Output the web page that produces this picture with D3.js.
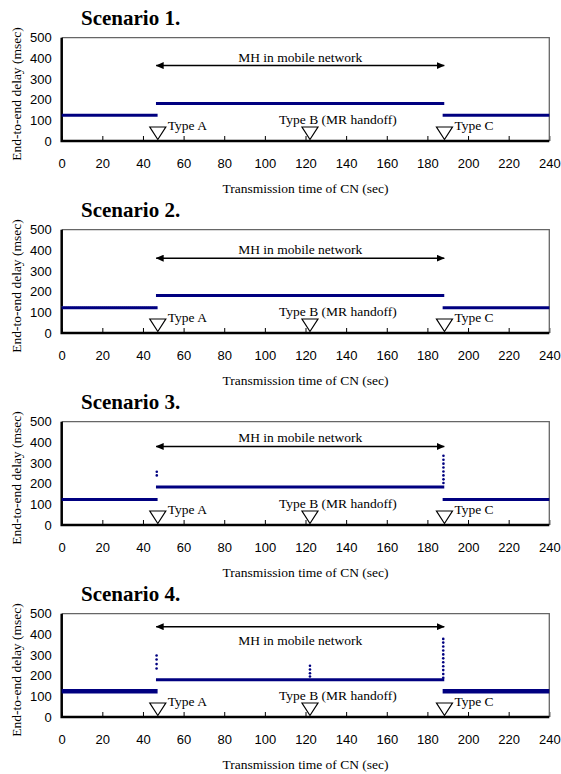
<!DOCTYPE html>
<meta charset="utf-8">
<script src="https://d3js.org/d3.v7.min.js"></script>
<style>
	body { margin: 0; background: #fff; }
	svg { display: block; font-family: "Liberation Serif", "Times New Roman", serif; }
	.axis text { font-size: 13px; fill: #000; }
	.axis path { display: none; }
	.x.axis line { stroke: #000; stroke-width: 1px; }
	.title { font-size: 21px; font-weight: bold; }
	.lbl { font-size: 13.5px; fill: #000; }
</style>
<body></body>
<script>

// chart values
var scenarios = ["Scenario 1.", "Scenario 2.", "Scenario 3.", "Scenario 4."];
var xTicks = [0, 20, 40, 60, 80, 100, 120, 140, 160, 180, 200, 220, 240];
var yTicks = [0, 100, 200, 300, 400, 500];

// three delay segments (before, during, after MH in mobile network)
var segStart = [0, 46.4, 187.5];
var segEnd = [47.2, 188.3, 240];
var delay1 = [125, 182, 125];
var delay2 = [122, 182, 122];
var delay3 = [123, 184, 123];
var delay4 = [125, 180, 125];
var delays = [delay1, delay2, delay3, delay4];

// faint second trace in scenario 2 (first segment only)
var ghost2 = 127;

// packet delay spikes at handoff events
var spikeA3 = [258, 240];
var spikeC3 = [335, 316, 297, 278, 259, 240, 221, 203];
var spikeA4 = [298, 278, 256, 235];
var spikeB4 = [248, 230, 212, 196];
var spikeC4 = [378, 360, 341, 322, 303, 284, 265, 246, 227, 208, 190];
var spikes = [
	[],
	[],
	[{t: 46.8, v: spikeA3}, {t: 187.9, v: spikeC3}],
	[{t: 46.7, v: spikeA4}, {t: 122.2, v: spikeB4}, {t: 187.8, v: spikeC4}]
];

// handoff events
var eventTimes = [47.3, 122.2, 188.4];
var eventNames = ["Type A", "Type B (MR handoff)", "Type C"];

// "MH in mobile network" arrow
var mhStart = 46.5, mhEnd = 188.3;
var arrowDelay = [365, 362, 380, 437];

var W = 561, H = 774, panelH = 192;

var svg = d3.select("body").append("svg")
	.attr("width", W)
	.attr("height", H);

svg.append("defs").append("marker")
	.attr("id", "head")
	.attr("viewBox", "0 0 8 7")
	.attr("refX", 7.5)
	.attr("refY", 3.5)
	.attr("markerWidth", 8)
	.attr("markerHeight", 7)
	.attr("markerUnits", "userSpaceOnUse")
	.attr("orient", "auto-start-reverse")
	.append("path")
	.attr("d", "M0,0 L8,3.5 L0,7 z")
	.attr("fill", "#000");

// scales
var xScale = d3.scaleLinear().domain([0, 240]).range([61.7, 549.3]);
var yScale = d3.scaleLinear().domain([0, 500]).range([141, 37.7]);
var x0 = xScale(0), x1 = xScale(240), y0 = yScale(0), y1 = yScale(500);

scenarios.forEach(function(name, i) {
	var g = svg.append("g").attr("transform", "translate(0," + (i * panelH) + ")");

	// title
	g.append("text").attr("class", "title")
		.attr("x", 81).attr("y", 25)
		.text(name);

	// axes
	g.append("g").attr("class", "x axis")
		.attr("transform", "translate(0," + y0 + ")")
		.call(d3.axisBottom(xScale).tickValues(xTicks).tickSizeInner(-5).tickSizeOuter(0).tickPadding(18));

	g.append("g").attr("class", "y axis")
		.attr("transform", "translate(" + x0 + ",0)")
		.call(d3.axisLeft(yScale).tickValues(yTicks).tickSize(0).tickPadding(10));

	// frame: grey top/right, black left/bottom
	g.append("path")
		.attr("d", "M" + x0 + "," + y1 + "H" + x1 + "V" + y0)
		.attr("fill", "none").attr("stroke", "#666").attr("stroke-width", 1.3);
	g.append("path")
		.attr("d", "M" + x0 + "," + y1 + "V" + y0 + "H" + x1)
		.attr("fill", "none").attr("stroke", "#000").attr("stroke-width", 2.5);

	// axis titles
	g.append("text").attr("class", "lbl")
		.attr("transform", "translate(21," + 94 + ") rotate(-90)")
		.attr("text-anchor", "middle")
		.text("End-to-end delay (msec)");
	g.append("text").attr("class", "lbl")
		.attr("x", (x0 + x1) / 2).attr("y", 193)
		.attr("text-anchor", "middle")
		.text("Transmission time of CN (sec)");

	// faint trace in scenario 2
	if (i == 1) {
		g.append("line")
			.attr("x1", xScale(segStart[0])).attr("x2", xScale(segEnd[0]))
			.attr("y1", yScale(ghost2)).attr("y2", yScale(ghost2))
			.attr("stroke", "#8c8cc4").attr("stroke-width", 1)
			.attr("stroke-dasharray", "1 1");
	}

	// delay segments (scenario 4 outer segments are drawn heavier)
	g.selectAll(".seg").data(delays[i]).enter().append("line")
		.attr("class", "seg")
		.attr("x1", function(d, k) { return xScale(segStart[k]); })
		.attr("x2", function(d, k) { return xScale(segEnd[k]); })
		.attr("y1", function(d) { return yScale(d); })
		.attr("y2", function(d) { return yScale(d); })
		.attr("stroke", "#000080")
		.attr("stroke-width", function(d, k) { return (i == 3 && k != 1) ? 4.5 : 3; });

	// spikes
	spikes[i].forEach(function(s) {
		g.selectAll(null).data(s.v).enter().append("circle")
			.attr("cx", xScale(s.t))
			.attr("cy", function(d) { return yScale(d); })
			.attr("r", 1.3)
			.attr("fill", "#000080");
	});

	// MH arrow + label
	var ay = yScale(arrowDelay[i]);
	g.append("line")
		.attr("x1", xScale(mhStart)).attr("x2", xScale(mhEnd))
		.attr("y1", ay).attr("y2", ay)
		.attr("stroke", "#000").attr("stroke-width", 1.5)
		.attr("marker-start", "url(#head)")
		.attr("marker-end", "url(#head)");
	g.append("text").attr("class", "lbl")
		.attr("x", xScale((mhStart + mhEnd) / 2))
		.attr("y", i == 3 ? ay + 18 : ay - 4)
		.attr("text-anchor", "middle")
		.text("MH in mobile network");

	// handoff event markers
	eventTimes.forEach(function(t, k) {
		var cx = xScale(t);
		g.append("path")
			.attr("d", "M" + (cx - 8) + "," + (y0 - 14) + "H" + (cx + 8) + "L" + cx + "," + (y0 - 1.5) + "Z")
			.attr("fill", "#fff").attr("stroke", "#000").attr("stroke-width", 1.2);
		g.append("text").attr("class", "lbl")
			.attr("x", k == 1 ? cx - 31 : cx + 10)
			.attr("y", k == 1 ? y0 - 17 : y0 - 11)
			.text(eventNames[k]);
	});
});

</script>
